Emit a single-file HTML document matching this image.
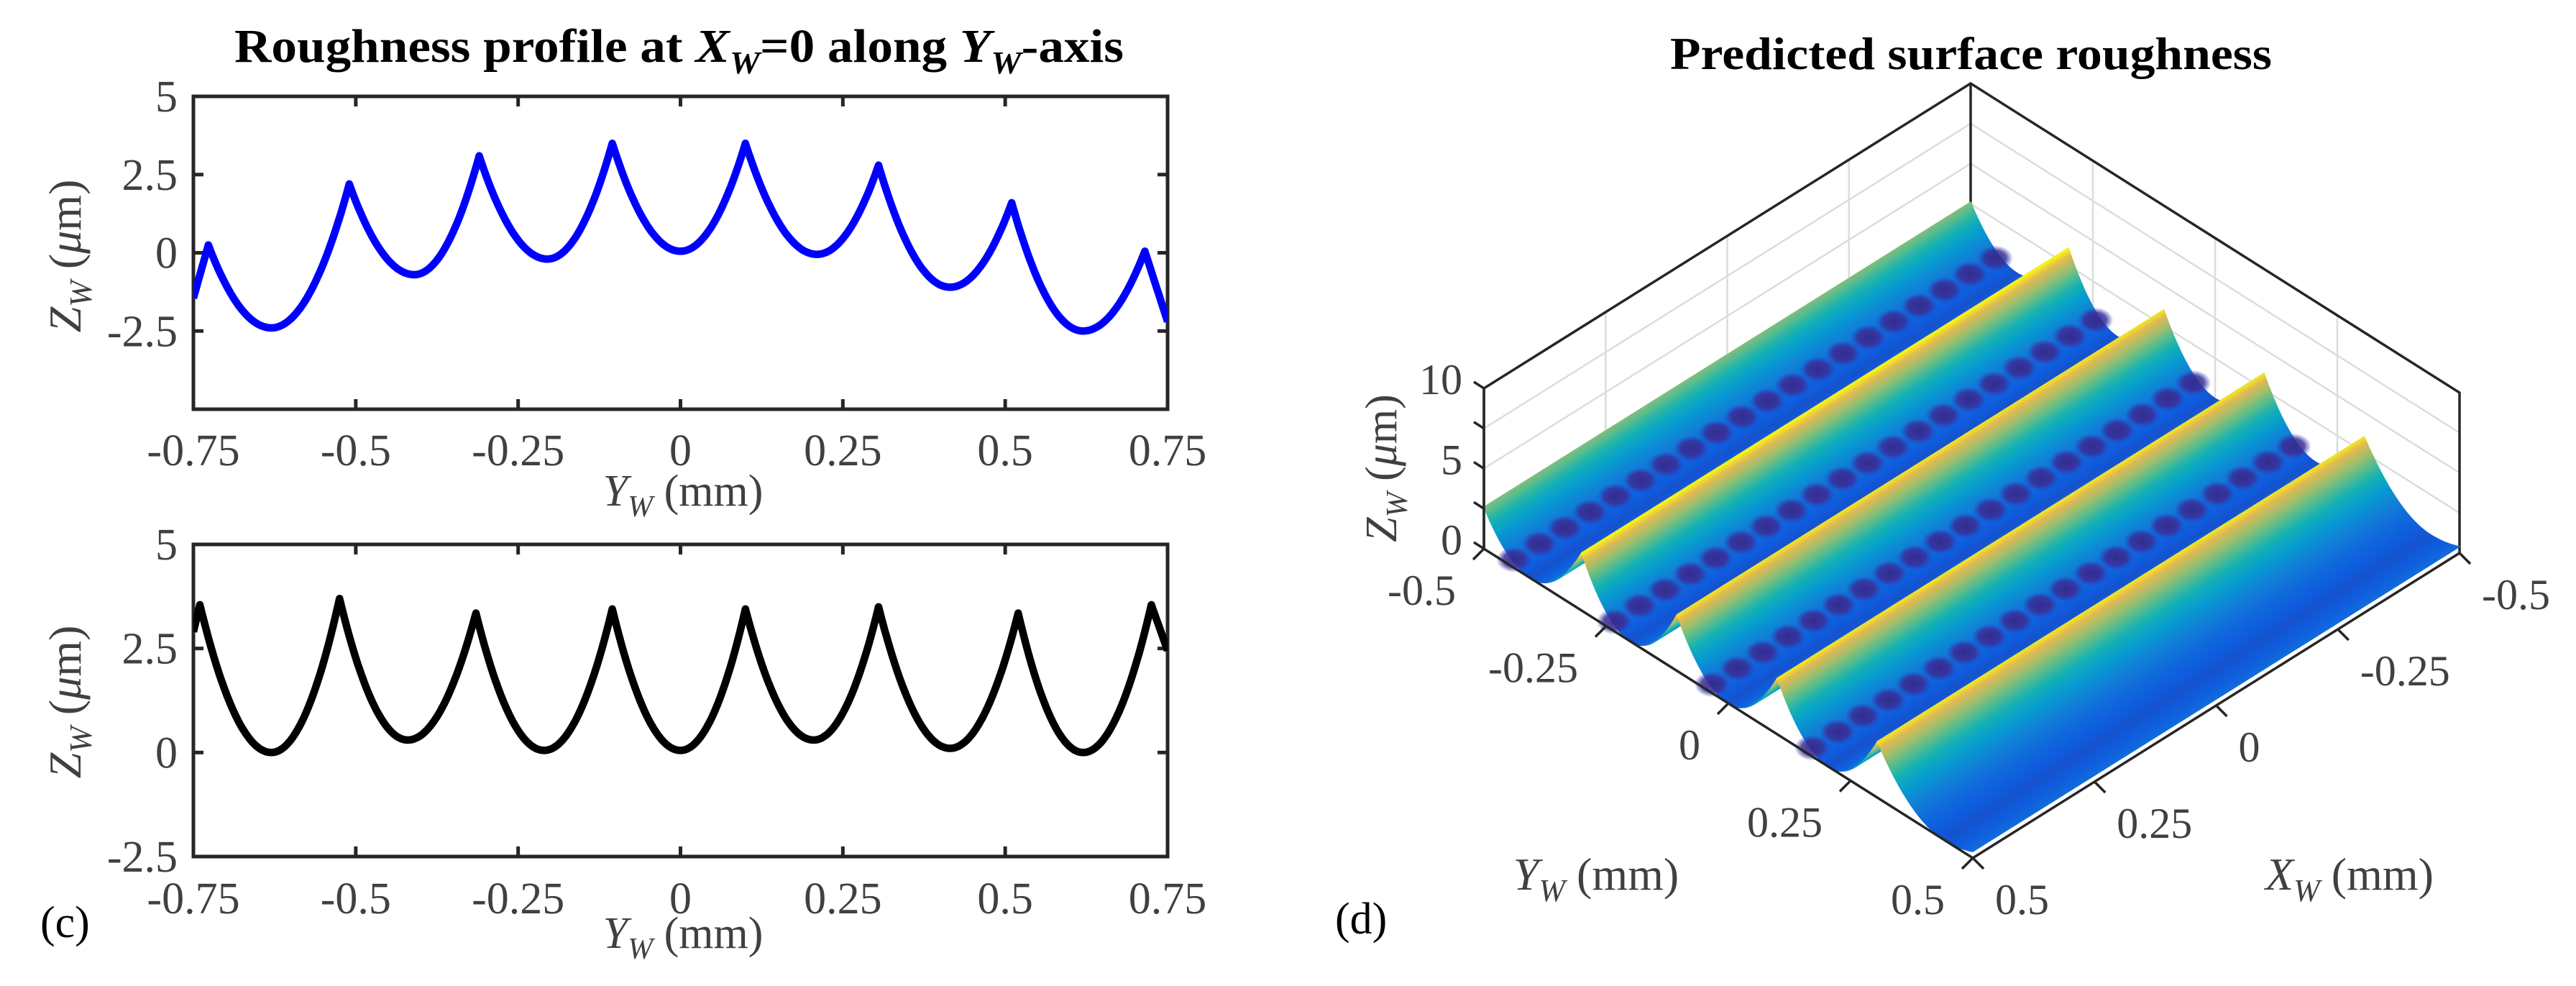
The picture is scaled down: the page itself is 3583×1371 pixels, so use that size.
<!DOCTYPE html>
<html><head><meta charset="utf-8"><style>
html,body{margin:0;padding:0;background:#fff;}
svg{display:block;font-family:"Liberation Serif",serif;}
</style></head><body>
<svg id="fig" width="3583" height="1371" viewBox="0 0 3583 1371" xmlns="http://www.w3.org/2000/svg">
<defs>
<radialGradient id="dotgrad"><stop offset="0" stop-color="#35288a" stop-opacity="0.95"/><stop offset="0.6" stop-color="#3a2e98" stop-opacity="0.85"/><stop offset="1" stop-color="#2b3fc0" stop-opacity="0"/></radialGradient>
</defs>
<g id="pc"></g>
<g id="pd"></g>
</svg>
<script>
// ---------- data ----------
const xTicks = [-0.75,-0.5,-0.25,0,0.25,0.5,0.75];
const xTickLabels = ["-0.75","-0.5","-0.25","0","0.25","0.5","0.75"];
const topYTicks = [-2.5,0,2.5,5];
const topYTickLabels = ["-2.5","0","2.5","5"];
const botYTicks = [-2.5,0,2.5,5];
const botYTickLabels = ["-2.5","0","2.5","5"];
const blueY = [-0.75,-0.727,-0.63,-0.51,-0.41,-0.31,-0.205,-0.105,0,0.1,0.21,0.305,0.415,0.51,0.62,0.715,0.75];
const blueZ = [-1.45,0.25,-2.4,2.2,-0.7,3.1,-0.2,3.5,0.05,3.5,-0.05,2.8,-1.1,1.6,-2.5,0.05,-2.2];
const blueT = ["p","p","v","p","v","p","v","p","v","p","v","p","v","p","v","p","p"];
const blackY = [-0.75,-0.74,-0.63,-0.525,-0.42,-0.315,-0.21,-0.105,0,0.1,0.205,0.305,0.415,0.52,0.62,0.725,0.75];
const blackZ = [2.9,3.55,0,3.7,0.3,3.35,0.05,3.45,0.05,3.45,0.3,3.5,0.1,3.35,0,3.55,2.45];
const blackT = ["p","p","v","p","v","p","v","p","v","p","v","p","v","p","v","p","p"];
const surfY = [-0.5,-0.405,-0.3,-0.2,-0.105,0,0.1,0.205,0.305,0.44,0.5];
const surfZ = [2.6,0,3.6,0,3.5,0,3.5,0,3.5,0,0.4];
const surfT = ["p","v","p","v","p","v","p","v","p","v","p"];
const zTicks3 = [0,5,10];
const zTickLabels3 = ["0","5","10"];
const yTicks3 = [-0.5,-0.25,0,0.25,0.5];
const yTickLabels3 = ["-0.5","-0.25","0","0.25","0.5"];
const xTicks3 = [-0.5,-0.25,0,0.25,0.5];
const xTickLabels3 = ["-0.5","-0.25","0","0.25","0.5"];

const NS="http://www.w3.org/2000/svg";
function mk(parent,tag,attrs,text){const e=document.createElementNS(NS,tag);for(const k in attrs)e.setAttribute(k,attrs[k]);if(text!==undefined)e.textContent=text;parent.appendChild(e);return e;}

function profileAt(Ys,Zs,Ts,y){
  for(let i=0;i<Ys.length-1;i++){
    if(y>=Ys[i]&&y<=Ys[i+1]){
      const a=i,b=i+1;
      if(Ts[a]==="v"||Ts[b]==="v"){
        const v=Ts[a]==="v"?a:b, p=Ts[a]==="v"?b:a;
        const t=(y-Ys[v])/(Ys[p]-Ys[v]);
        return Zs[v]+(Zs[p]-Zs[v])*t*t;
      }
      const t=(y-Ys[a])/(Ys[b]-Ys[a]);
      return Zs[a]+(Zs[b]-Zs[a])*t;
    }
  }
  return Zs[Zs.length-1];
}

const L=269,R=1624;
function plot2d(g,top,bot,ymin,ymax,yT,yTL,Ys,Zs,Ts,color,name,tickBase){
  const sx=v=>L+(v+0.75)/1.5*(R-L);
  const sy=v=>bot-(v-ymin)/(ymax-ymin)*(bot-top);
  const ax=mk(g,"g",{});
  
  
  const pts=[];
  const N=900;
  for(let i=0;i<=N;i++){pts.push(-0.75+1.5*i/N);}
  Ys.forEach(v=>pts.push(v));
  pts.sort((a,b)=>a-b);
  const d=pts.map((y,i)=>(i?"L":"M")+sx(y).toFixed(1)+" "+sy(profileAt(Ys,Zs,Ts,y)).toFixed(1)).join("");
  const cp=mk(g,"clipPath",{id:name+"-clip"});mk(cp,"rect",{x:L,y:top,width:R-L,height:bot-top});
  const ln=mk(g,"path",{d:d,fill:"none",stroke:color,"stroke-width":10.5,"stroke-linejoin":"round","clip-path":"url(#"+name+"-clip)"});
  
  
  mk(ax,"rect",{x:L,y:top,width:R-L,height:bot-top,fill:"none",stroke:"#262626","stroke-width":5});
  xTicks.forEach((v,i)=>{
    const x=sx(v);
    mk(ax,"line",{x1:x,y1:bot,x2:x,y2:bot-14,stroke:"#262626","stroke-width":5});
    mk(ax,"line",{x1:x,y1:top,x2:x,y2:top+14,stroke:"#262626","stroke-width":5});
    const t=mk(ax,"text",{x:x,y:tickBase,"font-size":62,"text-anchor":"middle",fill:"#404040"},xTickLabels[i]);
    
    
  });
  yT.forEach((v,i)=>{
    const y=sy(v);
    mk(ax,"line",{x1:L,y1:y,x2:L+14,y2:y,stroke:"#262626","stroke-width":5});
    mk(ax,"line",{x1:R,y1:y,x2:R-14,y2:y,stroke:"#262626","stroke-width":5});
    const t=mk(ax,"text",{x:247,y:y+21,"font-size":62,"text-anchor":"end",fill:"#404040"},yTL[i]);
    
    
  });
}
const pc=document.getElementById("pc");
plot2d(pc,134,569,-5,5,topYTicks,topYTickLabels,blueY,blueZ,blueT,"#0000ff","top-profile",647);
plot2d(pc,757,1191,-2.5,5,botYTicks,botYTickLabels,blackY,blackZ,blackT,"#000000","bottom-profile",1270);
</script>
<script>
(function(){
const pc=document.getElementById("pc");
pc.insertAdjacentHTML("beforeend",`
<text x="326" y="86" font-size="66" font-weight="bold" fill="#000" textLength="1237" lengthAdjust="spacingAndGlyphs">Roughness profile at <tspan font-style="italic">X</tspan><tspan font-style="italic" font-size="44" dy="16">W</tspan><tspan dy="-16">=0 along </tspan><tspan font-style="italic">Y</tspan><tspan font-style="italic" font-size="44" dy="16">W</tspan><tspan dy="-16">-axis</tspan></text>
<text x="950" y="703" font-size="62" text-anchor="middle" fill="#404040"><tspan font-style="italic">Y</tspan><tspan font-style="italic" font-size="42" dy="15">W</tspan><tspan dy="-15"> (mm)</tspan></text>
<text transform="translate(112,356) rotate(-90)" font-size="64" text-anchor="middle" fill="#404040"><tspan font-style="italic">Z</tspan><tspan font-style="italic" font-size="44" dy="15">W</tspan><tspan dy="-15"> (</tspan><tspan font-style="italic">μ</tspan><tspan>m)</tspan></text>
<text x="950" y="1318" font-size="62" text-anchor="middle" fill="#404040"><tspan font-style="italic">Y</tspan><tspan font-style="italic" font-size="42" dy="15">W</tspan><tspan dy="-15"> (mm)</tspan></text>
<text transform="translate(112,976) rotate(-90)" font-size="64" text-anchor="middle" fill="#404040"><tspan font-style="italic">Z</tspan><tspan font-style="italic" font-size="44" dy="15">W</tspan><tspan dy="-15"> (</tspan><tspan font-style="italic">μ</tspan><tspan>m)</tspan></text>
<text x="56" y="1303" font-size="62" fill="#000">(c)</text>
`);
})();
</script>
<script>
const pd=document.getElementById("pd");
const B=[2744,1193], dY=[680,430], dX=[-677,424], dZ=-22.3;
function P(X,Y,Z){return [B[0]+(Y-0.5)*dY[0]+(X-0.5)*dX[0], B[1]+(Y-0.5)*dY[1]+(X-0.5)*dX[1]+dZ*Z];}
const parula=[[53,42,135],[15,92,221],[18,125,216],[7,156,207],[21,177,180],[89,189,140],[165,190,107],[225,185,82],[249,251,14]];
function cmap(z){
  const u=Math.sqrt(Math.max(0,Math.min(1,z/3.6)));
  const c=0.2*u+0.8*u*u*u;
  let t=(0.1+0.9*c)*(parula.length-1);
  const i=Math.min(parula.length-2,Math.floor(t));const f=t-i;const a=parula[i],b=parula[i+1];
  return "rgb("+a.map((v,k)=>Math.round(v+(b[k]-v)*f)).join(",")+")";
}
function pt(p){return p[0].toFixed(1)+","+p[1].toFixed(1);}
const grid=mk(pd,"g",{stroke:"#dcdcdc","stroke-width":2.5,fill:"none"});


xTicks3.forEach(v=>{const a=P(v,-0.5,0),b=P(v,-0.5,10);mk(grid,"line",{x1:a[0],y1:a[1],x2:b[0],y2:b[1]});});
yTicks3.forEach(v=>{const a=P(-0.5,v,0),b=P(-0.5,v,10);mk(grid,"line",{x1:a[0],y1:a[1],x2:b[0],y2:b[1]});});
[2.5,5,7.5].forEach(z=>{const a=P(0.5,-0.5,z),b=P(-0.5,-0.5,z),c=P(-0.5,0.5,z);mk(grid,"polyline",{points:pt(a)+" "+pt(b)+" "+pt(c)});});
const box=mk(pd,"g",{stroke:"#262626","stroke-width":3.5,fill:"none"});


mk(box,"polyline",{points:[P(0.5,-0.5,0),P(0.5,-0.5,10),P(-0.5,-0.5,10),P(-0.5,0.5,10),P(-0.5,0.5,0)].map(pt).join(" ")});
mk(box,"line",{x1:P(-0.5,-0.5,0)[0],y1:P(-0.5,-0.5,0)[1],x2:P(-0.5,-0.5,10)[0],y2:P(-0.5,-0.5,10)[1]});
const surf=mk(pd,"g",{});


const NS3=500;
const ys=[];for(let i=0;i<=NS3;i++)ys.push(-0.5+i/NS3);
surfY.forEach(v=>ys.push(v));ys.sort((a,b)=>a-b);
for(let i=0;i<ys.length-1;i++){
  const y0=ys[i],y1=ys[i+1];if(y1-y0<1e-6)continue;
  const z0=profileAt(surfY,surfZ,surfT,y0),z1=profileAt(surfY,surfZ,surfT,y1);
  const c=cmap((z0+z1)/2);
  mk(surf,"polygon",{points:[P(-0.5,y0,z0),P(0.5,y0,z0),P(0.5,y1,z1),P(-0.5,y1,z1)].map(pt).join(" "),fill:c,stroke:c,"stroke-width":1.5});
  for(let k=0;k<surfT.length;k++){
    if(surfT[k]==="v"&&y0<surfY[k]&&y1>=surfY[k]){
      const yd=surfY[k]-0.035;
      for(let j=0;j<20;j++){
        const X=-0.49+j*0.052;const p=P(X,yd,profileAt(surfY,surfZ,surfT,yd));
        mk(surf,"ellipse",{cx:p[0],cy:p[1]-2,rx:25,ry:18,fill:"url(#dotgrad)"});
      }
    }
  }
}
const fr=mk(pd,"g",{stroke:"#262626","stroke-width":3.5,fill:"none"});


mk(fr,"polyline",{points:[P(0.5,-0.5,10),P(0.5,-0.5,0),P(0.5,0.5,0),P(-0.5,0.5,0)].map(pt).join(" ")});
[0,2.5,5,7.5,10].forEach(v=>{const p=P(0.5,-0.5,v);mk(fr,"line",{x1:p[0],y1:p[1],x2:p[0]-14,y2:p[1]-9});});
zTicks3.forEach((v,i)=>{const p=P(0.5,-0.5,v);
  const t=mk(pd,"text",{x:p[0]-30,y:p[1]+8,"font-size":60,"text-anchor":"end",fill:"#404040"},zTickLabels3[i]);
  });
yTicks3.forEach((v,i)=>{const p=P(0.5,v,0);mk(fr,"line",{x1:p[0],y1:p[1],x2:p[0]-15,y2:p[1]+15});
  const t=mk(pd,"text",{x:p[0]-39,y:p[1]+78,"font-size":60,"text-anchor":"end",fill:"#404040"},yTickLabels3[i]);
  });
xTicks3.forEach((v,i)=>{const p=P(v,0.5,0);mk(fr,"line",{x1:p[0],y1:p[1],x2:p[0]+15,y2:p[1]+15});
  const t=mk(pd,"text",{x:p[0]+31,y:p[1]+78,"font-size":60,"text-anchor":"start",fill:"#404040"},xTickLabels3[i]);
  });
pd.insertAdjacentHTML("beforeend",`
<text x="2323" y="96" font-size="64" font-weight="bold" fill="#000" textLength="837" lengthAdjust="spacingAndGlyphs">Predicted surface roughness</text>
<text transform="translate(1942,651) rotate(-90)" font-size="62" text-anchor="middle" fill="#404040"><tspan font-style="italic">Z</tspan><tspan font-style="italic" font-size="42" dy="15">W</tspan><tspan dy="-15"> (</tspan><tspan font-style="italic">μ</tspan><tspan>m)</tspan></text>
<text x="2220" y="1237" font-size="64" text-anchor="middle" fill="#404040"><tspan font-style="italic">Y</tspan><tspan font-style="italic" font-size="44" dy="16">W</tspan><tspan dy="-16"> (mm)</tspan></text>
<text x="3268" y="1237" font-size="64" text-anchor="middle" fill="#404040"><tspan font-style="italic">X</tspan><tspan font-style="italic" font-size="44" dy="16">W</tspan><tspan dy="-16"> (mm)</tspan></text>
<text x="1857" y="1298" font-size="62" fill="#000">(d)</text>
`);
</script>
</body></html>
